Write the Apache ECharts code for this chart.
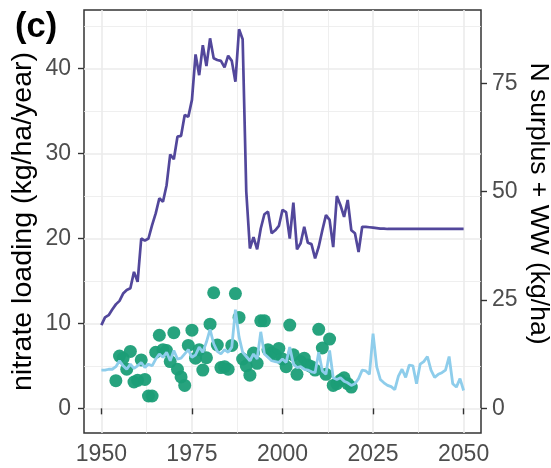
<!DOCTYPE html>
<html>
<head>
<meta charset="utf-8">
<script src="https://cdn.jsdelivr.net/npm/echarts@6/dist/echarts.min.js"></script>
<style>
  html, body { margin: 0; padding: 0; background: #fff; }
  #chart { width: 551px; height: 468px; }
</style>
</head>
<body>
<div id="chart"></div>
<script>
// years for the yearly series
var firstYear = 1950;
var firstDotYear = 1954;

// N surplus + WW (kg/ha), right axis, 1950-2050
var surplus = [
  19.2, 21.0, 21.5, 22.8, 24.0, 24.8, 26.5, 27.3, 27.7, 31.5,
  29.2, 39.2, 38.7, 39.2, 42.3, 45.0, 48.5, 47.7, 51.5, 58.6,
  57.5, 62.7, 62.9, 67.7, 67.3, 71.2, 81.7, 76.9, 83.8, 79.0,
  85.4, 80.8, 80.4, 80.2, 78.7, 81.4, 80.2, 75.4, 87.5, 85.2,
  50.0, 36.9, 39.5, 36.7, 41.5, 44.8, 45.4, 40.4, 41.1, 42.1,
  45.8, 45.3, 39.2, 47.5, 36.7, 38.1, 41.9, 38.2, 37.9, 34.6,
  37.3, 41.1, 44.6, 43.5, 37.2, 49.0, 46.9, 44.2, 48.1, 41.1,
  40.4, 36.1, 41.9, 41.9, 41.8, 41.7, 41.6, 41.5, 41.5, 41.4,
  41.4, 41.4, 41.4, 41.4, 41.4, 41.4, 41.4, 41.4, 41.4, 41.4,
  41.4, 41.4, 41.4, 41.4, 41.4, 41.4, 41.4, 41.4, 41.4, 41.4,
  41.4
];

// modelled nitrate loading (kg/ha/year), 1950-2050
var modelled = [
  4.5, 4.5, 4.6, 4.6, 4.9, 5.6, 5.0, 4.6, 5.2, 4.7,
  5.0, 5.4, 4.8, 5.2, 5.0, 5.8, 6.4, 6.0, 6.6, 5.6,
  6.8, 5.8, 5.9, 6.4, 6.9, 6.0, 6.3, 7.2, 6.6, 7.8,
  9.3, 7.6, 6.7, 6.4, 6.9, 6.6, 7.2, 11.6, 8.4, 6.6,
  6.1, 5.6, 6.4, 5.8, 9.0, 6.4, 6.0, 5.6, 5.5, 5.4,
  5.8, 5.4, 7.2, 5.2, 4.8, 4.9, 4.6, 4.5, 4.3, 4.2,
  6.6, 4.4, 4.0, 6.8, 3.6, 3.4, 3.6, 3.2, 3.0, 2.7,
  2.9, 3.5, 4.5, 4.4, 4.0, 8.8, 4.9, 3.4, 3.0, 2.7,
  2.55, 2.2, 3.8, 4.6, 3.65, 5.1, 5.0, 2.9, 5.2, 5.5,
  6.1, 4.5, 3.65, 4.0, 4.2, 4.5, 6.1, 2.9, 2.5, 3.5,
  2.1
];

// half width of the uncertainty ribbon
var ribbonHalf = [
  0.25, 0.25, 0.25, 0.25, 0.25, 0.25, 0.25, 0.25, 0.25, 0.25,
  0.3, 0.3, 0.3, 0.3, 0.3, 0.3, 0.3, 0.3, 0.3, 0.3,
  0.35, 0.35, 0.35, 0.4, 0.5, 0.4, 0.4, 0.5, 0.6, 0.9,
  1.0, 0.8, 0.6, 0.5, 0.5, 0.5, 0.6, 1.2, 1.0, 0.6,
  0.5, 0.4, 0.4, 0.4, 0.7, 0.5, 0.4, 0.4, 0.4, 0.4,
  0.4, 0.4, 0.6, 0.4, 0.35, 0.35, 0.35, 0.35, 0.35, 0.35,
  0.6, 0.35, 0.35, 0.6, 0.3, 0.3, 0.3, 0.3, 0.3, 0.3,
  0.3, 0.35, 0.4, 0.4, 0.4, 0.8, 0.5, 0.4, 0.35, 0.35,
  0.3, 0.3, 0.4, 0.45, 0.4, 0.5, 0.5, 0.35, 0.55, 0.55,
  0.6, 0.45, 0.4, 0.4, 0.45, 0.45, 0.6, 0.35, 0.3, 0.4,
  0.3
];

// observed nitrate loading (kg/ha/year), 1954-2019
var observed = [
  3.25, 6.15, 5.9, 4.6, 6.7, 3.1,
  3.3, 5.7, 3.4, 1.45, 1.45, 6.6, 8.6, 6.9, 6.8, 5.5,
  8.9, 4.6, 3.7, 2.7, 7.4, 9.2, 5.9, 6.9, 4.5, 5.95,
  9.9, 13.6, 7.45, 4.8, 4.9, 4.6, 7.4, 13.5, 10.7, 5.8,
  5.0, 3.9, 6.5, 5.3, 10.3, 10.3, 6.9, 6.5, 6.3, 7.05,
  5.8, 4.9, 9.8, 6.3, 4.0, 5.5, 5.9, 5.1, 4.9, 4.5,
  9.3, 7.1, 4.0, 8.15, 2.7, 2.9, 3.3, 3.6, 2.9, 2.5
];

// ticks
var xTicks = [1950, 1975, 2000, 2025, 2050];
var xMinorTicks = [1962.5, 1987.5, 2012.5, 2037.5];
var leftTicks = [0, 10, 20, 30, 40];
var leftMinorTicks = [5, 15, 25, 35, 45];
var rightTicks = [0, 25, 50, 75];

function pairs(start, values) {
  return values.map(function (v, i) { return [start + i, v]; });
}

var lowData = modelled.map(function (v, i) { return [firstYear + i, v - ribbonHalf[i]]; });
var spanData = modelled.map(function (v, i) { return [firstYear + i, 2 * ribbonHalf[i]]; });

var chart = echarts.init(document.getElementById('chart'), null, { renderer: 'canvas' });

var font = "'Liberation Sans', Arial, sans-serif";
var major = { show: true, lineStyle: { color: '#EBEBEB', width: 1.6 } };
var minor = { show: true, lineStyle: { color: '#EBEBEB', width: 0.8 } };
var tickStyle = { color: '#333333', width: 1.4 };
var plain = function (v) { return String(v); };
var tickLabel = { fontSize: 23, color: '#4D4D4D', fontFamily: font, formatter: plain };

var option = {
  animation: false,
  backgroundColor: '#fff',
  title: {
    text: '(c)',
    left: 15,
    top: 10,
    padding: 0,
    textStyle: { fontSize: 34.5, fontWeight: 'bold', color: '#000', fontFamily: font }
  },
  grid: {
    left: 84, top: 10, width: 397, height: 423,
    show: true, borderColor: '#333333', borderWidth: 1.5,
    outerBoundsMode: 'none'
  },
  xAxis: [{
    type: 'value', min: 1945.2, max: 2054.8,
    axisLine: { show: false },
    axisTick: { show: true, length: 6, lineStyle: tickStyle, customValues: xTicks },
    axisLabel: Object.assign({ margin: 10, customValues: xTicks }, tickLabel),
    splitLine: major
  }, {
    type: 'value', min: 1945.2, max: 2054.8,
    axisLine: { show: false },
    axisTick: { show: false, customValues: xMinorTicks },
    axisLabel: { show: false },
    splitLine: minor
  }],
  yAxis: [{
    type: 'value', min: -2.9, max: 46.86, position: 'left',
    name: 'nitrate loading (kg/ha/year)', nameLocation: 'middle', nameGap: 46,
    nameRotate: 90, nameMoveOverlap: false,
    nameTextStyle: { fontSize: 28.5, color: '#000', fontFamily: font },
    axisLine: { show: false },
    axisTick: { show: true, length: 6, lineStyle: tickStyle, customValues: leftTicks },
    axisLabel: Object.assign({ margin: 13, customValues: leftTicks }, tickLabel),
    splitLine: major
  }, {
    type: 'value', min: -5.69, max: 91.94, position: 'right',
    name: 'N surplus + WW (kg/ha)', nameLocation: 'middle', nameGap: 44,
    nameRotate: -90, nameMoveOverlap: false,
    nameTextStyle: { fontSize: 26.5, color: '#000', fontFamily: font, padding: [0, 36, 0, 0] },
    axisLine: { show: false },
    axisTick: { show: true, length: 6, lineStyle: tickStyle, customValues: rightTicks },
    axisLabel: Object.assign({ margin: 11, customValues: rightTicks }, tickLabel),
    splitLine: { show: false }
  }, {
    type: 'value', min: -2.9, max: 46.86, position: 'left',
    axisLine: { show: false },
    axisTick: { show: false, customValues: leftMinorTicks },
    axisLabel: { show: false },
    splitLine: minor
  }],
  series: [{
    name: 'surplus',
    type: 'line', xAxisIndex: 0, yAxisIndex: 1,
    data: pairs(firstYear, surplus),
    symbol: 'none', silent: true,
    lineStyle: { color: '#52479B', width: 2.7 }
  }, {
    name: 'low',
    type: 'line', xAxisIndex: 0, yAxisIndex: 0, stack: 'ribbon',
    data: lowData, symbol: 'none', silent: true,
    lineStyle: { opacity: 0, width: 0 }
  }, {
    name: 'span',
    type: 'line', xAxisIndex: 0, yAxisIndex: 0, stack: 'ribbon',
    data: spanData, symbol: 'none', silent: true,
    lineStyle: { opacity: 0, width: 0 },
    areaStyle: { color: '#8ECDEB', opacity: 0.5 }
  }, {
    name: 'modelled',
    type: 'line', xAxisIndex: 0, yAxisIndex: 0,
    data: pairs(firstYear, modelled),
    symbol: 'none', silent: true,
    lineStyle: { color: '#8ECDEB', width: 2.8 }
  }, {
    name: 'observed',
    type: 'scatter', xAxisIndex: 0, yAxisIndex: 0,
    data: pairs(firstDotYear, observed),
    symbolSize: 13, silent: true,
    itemStyle: { color: '#1B9E77', opacity: 0.95 }
  }]
};

chart.setOption(option);
</script>
</body>
</html>
